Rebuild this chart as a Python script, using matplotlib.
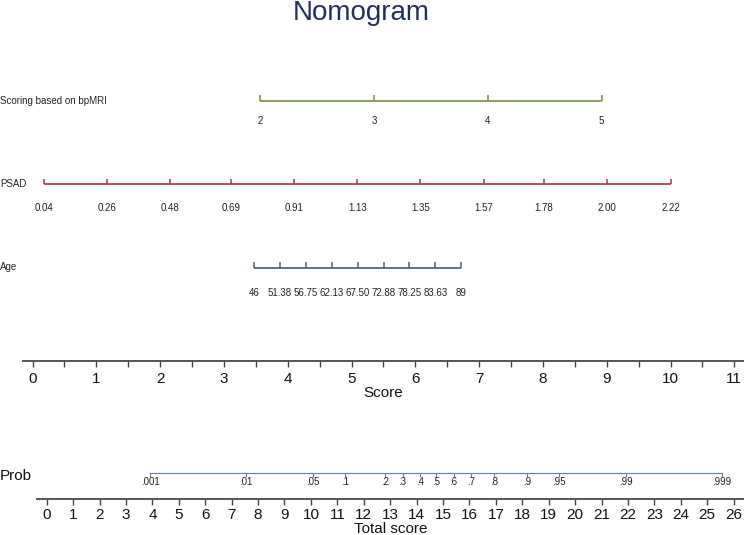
import numpy as np
import matplotlib.pyplot as plt
import matplotlib.transforms as mtransforms
from matplotlib.ticker import MultipleLocator

plt.rcParams['font.family'] = ['Liberation Sans', 'DejaVu Sans']

# predictor scales (values) and where their ends fall on the Score axis
bpmri_vals = [2, 3, 4, 5]
bpmri_span = [3.57, 8.92]
psad_vals = [0.04, 0.26, 0.48, 0.69, 0.91, 1.13, 1.35, 1.57, 1.78, 2.00, 2.22]
psad_span = [0.18, 10.0]
age_vals = [46, 51.38, 56.75, 62.13, 67.50, 72.88, 78.25, 83.63, 89]
age_labels = ['46', '51.38', '56.75', '62.13', '67.50', '72.88', '78.25', '83.63', '89']
age_span = [3.47, 6.72]

# probability scale read against the Total score axis
prob_labels = ['.001', '.01', '.05', '.1', '.2', '.3', '.4', '.5', '.6', '.7', '.8', '.9', '.95', '.99', '.999']
prob_pos = [3.91, 7.54, 10.08, 11.29, 12.80, 13.47, 14.12, 14.73, 15.40, 16.07, 16.92, 18.18, 19.38, 21.92, 25.56]

score_ticks = list(range(0, 12))
total_ticks = list(range(0, 27))

W, H = 744, 535
fig = plt.figure(figsize=(W / 100, H / 100), dpi=100)

# main canvas: x in score units, y in pixels from top
ax = fig.add_axes([0, 0, 1, 1])
ax.set_xlim(-32.5 / 63.8, (W - 32.5) / 63.8)
ax.set_ylim(H, 0)
ax.axis('off')
left = mtransforms.blended_transform_factory(ax.transAxes, ax.transData)

ax.text(0.485, 13, 'Nomogram', transform=left, ha='center', va='center',
        fontsize=20, color='#1f3060')

rows = [
    ('Scoring based on bpMRI', bpmri_vals, [str(v) for v in bpmri_vals], bpmri_span, 100.5, 121, '#6e9440'),
    ('PSAD', psad_vals, ['%.2f' % v for v in psad_vals], psad_span, 184, 208, '#b3323e'),
    ('Age', age_vals, age_labels, age_span, 267.5, 293, '#3d5f8c'),
]
for name, vals, labs, span, y, ylab, col in rows:
    pos = np.interp(vals, [vals[0], vals[-1]], span)
    ax.text(0, y, name, transform=left, ha='left', va='center', fontsize=7, color='#222222')
    ax.plot([pos[0], pos[-1]], [y, y], color=col, lw=1.2, solid_capstyle='butt')
    ax.vlines(pos, y - 5.5, y, color=col, lw=1.1)
    for p, lab in zip(pos, labs):
        ax.text(p, ylab, lab, ha='center', va='center', fontsize=7, color='#222222')

# Score axis
ax_s = fig.add_axes([23 / W, (H - 361) / H, 1 - 23 / W, 0.0001])
ax_s.set_xlim((23 - 32.5) / 63.8, (W - 32.5) / 63.8)
ax_s.set_facecolor('none')
for sp in ['top', 'left', 'right']:
    ax_s.spines[sp].set_visible(False)
ax_s.spines['bottom'].set_color('#555555')
ax_s.spines['bottom'].set_linewidth(1.4)
ax_s.set_yticks([])
ax_s.set_xticks(score_ticks)
ax_s.xaxis.set_minor_locator(MultipleLocator(0.5))
ax_s.tick_params(axis='x', which='both', length=4, width=1, color='#444444',
                 labelsize=11, pad=4, labelcolor='#111111')
ax_s.set_xlabel('Score', fontsize=11, labelpad=0, color='#111111')

# Total score axis with the probability scale above it
ax_t = fig.add_axes([37 / W, (H - 499) / H, 1 - 37 / W, (499 - 460) / H])
ax_t.set_xlim((37 - 46.7) / 26.42, (W - 46.7) / 26.42)
ax_t.set_ylim(499, 460)
ax_t.set_facecolor('none')
for sp in ['top', 'left', 'right']:
    ax_t.spines[sp].set_visible(False)
ax_t.spines['bottom'].set_color('#555555')
ax_t.spines['bottom'].set_linewidth(1.4)
ax_t.set_yticks([])
ax_t.set_xticks(total_ticks)
ax_t.tick_params(axis='x', length=4, width=1, color='#444444',
                 labelsize=11, pad=2.5, labelcolor='#111111')
ax_t.set_xlabel('Total score', fontsize=11, labelpad=0, color='#111111')

ax_t.plot([prob_pos[0], prob_pos[-1]], [473.3, 473.3], color='#5a82b4', lw=0.8, clip_on=False)
ax_t.vlines(prob_pos, 473.3, 476.5, color='#5a82b4', lw=0.8, clip_on=False)
for p, lab in zip(prob_pos, prob_labels):
    ax_t.text(p, 482, lab, ha='center', va='center', fontsize=7, color='#222222', clip_on=False)
ax.text(0, 476.5, 'Prob', transform=left, ha='left', va='center', fontsize=11, color='#111111')

fig.savefig('out.png', dpi=100)
